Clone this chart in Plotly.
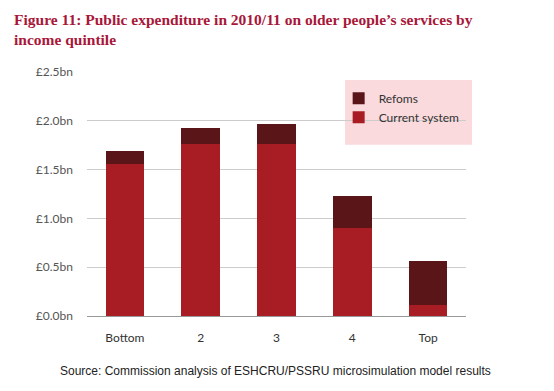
import plotly.graph_objects as go

categories = ["Bottom", "2", "3", "4", "Top"]
current_system = [1.555, 1.76, 1.76, 0.90, 0.115]
reforms = [0.135, 0.17, 0.205, 0.33, 0.45]
tick_vals = [0, 0.5, 1.0, 1.5, 2.0, 2.5]
tick_text = ["£0.0bn", "£0.5bn", "£1.0bn", "£1.5bn", "£2.0bn", "£2.5bn"]

fig = go.Figure()
fig.add_trace(go.Bar(x=categories, y=current_system, name="Current system",
                     marker=dict(color="#a81c24", line=dict(width=0))))
fig.add_trace(go.Bar(x=categories, y=reforms, name="Refoms",
                     marker=dict(color="#5a1519", line=dict(width=0))))

# page has an 8px body margin; figure coords = page coords - 8
fig.update_layout(
    width=554, height=391,
    barmode="stack", bargap=0.49,
    paper_bgcolor="white", plot_bgcolor="white",
    margin=dict(l=79, r=96, t=64, b=82.5, autoexpand=False),
    showlegend=True,
    legend=dict(x=0.664, y=0.952, xanchor="left", yanchor="top",
                bgcolor="rgba(0,0,0,0)", font=dict(family="Lato", size=12, color="#333"),
                tracegroupgap=0, itemsizing="constant"),
    font=dict(family="Lato", color="#555"),
    shapes=[dict(type="rect", xref="paper", yref="paper", layer="below",
                 x0=(345 - 87) / 379, x1=(472 - 87) / 379,
                 y0=(316.5 - 145) / 244.5, y1=(316.5 - 80) / 244.5,
                 fillcolor="#fadadd", line=dict(width=0))],
    annotations=[
        dict(text="<b>Figure 11: Public expenditure in 2010/11 on older people’s services by<br>income quintile</b>",
             xref="paper", yref="paper", x=(12 - 87) / 379, y=(316.5 - 8.5) / 244.5,
             xanchor="left", yanchor="top", align="left", showarrow=False,
             font=dict(family="Liberation Serif", size=15.5, color="#a8173a")),
        dict(text="Source: Commission analysis of ESHCRU/PSSRU microsimulation model results",
             xref="paper", yref="paper", x=(275 - 87) / 379, y=(316.5 - 372) / 244.5,
             xanchor="center", yanchor="middle", showarrow=False,
             font=dict(family="Liberation Sans", size=12, color="#222")),
    ],
)
fig.update_yaxes(range=[0, 2.5], tickvals=tick_vals, ticktext=tick_text,
                 showgrid=True, gridcolor="#cccccc", gridwidth=1,
                 zeroline=True, zerolinecolor="#999999", zerolinewidth=1,
                 tickfont=dict(family="Lato", size=12, color="#555"),
                 ticks="", ticklabelstandoff=13, automargin=False, fixedrange=True)
fig.update_xaxes(showgrid=False, showline=False, automargin=False,
                 tickfont=dict(family="Lato", size=12, color="#333"),
                 ticklabelstandoff=13)

fig.write_html("out.html")
